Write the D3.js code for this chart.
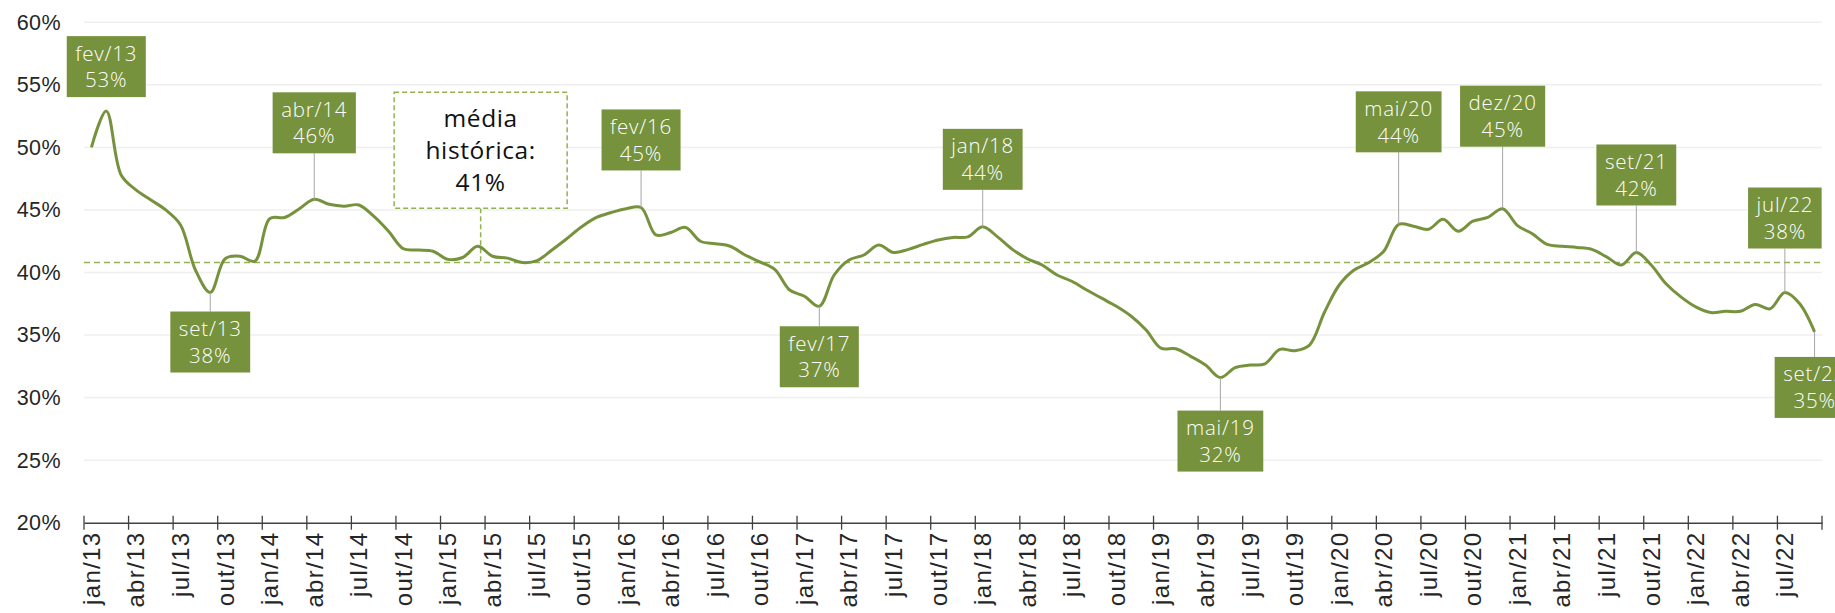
<!DOCTYPE html>
<html>
<head>
<meta charset="utf-8">
<script src="https://cdn.jsdelivr.net/npm/d3@7"></script>
<style>
  body { margin: 0; background: #fff; }
  svg { display: block; font-family: "Open Sans", sans-serif; font-weight: 300; }
</style>
</head>
<body>
<div id="chart"></div>
<script>
// month categories (pt-BR)
const monthNames = ['jan', 'fev', 'mar', 'abr', 'mai', 'jun', 'jul', 'ago', 'set', 'out', 'nov', 'dez'];
const years = ['13', '14', '15', '16', '17', '18', '19', '20', '21', '22'];
const lastMonth = 'set/22';

// monthly series, % (jan/13 .. set/22)
const values = [
  50.0, 52.9, 47.8, 46.6, 45.8, 45.0, 43.8, 40.2, 38.4, 41.1, 41.3, 40.9,
  44.3, 44.4, 45.1, 45.85, 45.45, 45.3, 45.4, 44.5, 43.3, 41.9, 41.8, 41.7,
  41.05, 41.2, 42.1, 41.3, 41.15, 40.8, 40.95, 41.8, 42.7, 43.65, 44.4, 44.8,
  45.1, 45.2, 43.0, 43.2, 43.6, 42.5, 42.3, 42.1, 41.4, 40.85, 40.25, 38.6,
  38.1, 37.3, 39.8, 41.0, 41.4, 42.2, 41.6, 41.85, 42.25, 42.6, 42.8, 42.85,
  43.65, 42.85, 41.85, 41.1, 40.6, 39.8, 39.3, 38.6, 37.95, 37.3, 36.5, 35.4,
  33.95, 33.9, 33.3, 32.6, 31.6, 32.4, 32.6, 32.7, 33.85, 33.75, 34.2, 36.8,
  39.0, 40.2, 40.8, 41.7, 43.85, 43.7, 43.45, 44.25, 43.3, 44.1, 44.4, 45.1,
  43.75, 43.1, 42.25, 42.1, 42.0, 41.85, 41.25, 40.6, 41.6, 40.6, 39.1, 38.05,
  37.25, 36.8, 36.9, 36.9, 37.45, 37.1, 38.4, 37.5, 35.25
];

const historicalAvg = 40.8;
const yTicks = [20, 25, 30, 35, 40, 45, 50, 55, 60];
const tickMonths = ['jan', 'abr', 'jul', 'out'];

// highlighted months
const callouts = ['fev/13', 'set/13', 'abr/14', 'fev/16', 'fev/17', 'jan/18',
                  'mai/19', 'mai/20', 'dez/20', 'set/21', 'jul/22', 'set/22'];

// callout placement: side of the line and gap (px) between point and box
const calloutLayout = {
  'fev/13': { side: 'up', gap: 14, leader: false },
  'set/13': { side: 'down', gap: 19 },
  'abr/14': { side: 'up', gap: 46 },
  'fev/16': { side: 'up', gap: 37 },
  'fev/17': { side: 'down', gap: 20 },
  'jan/18': { side: 'up', gap: 37 },
  'mai/19': { side: 'down', gap: 33 },
  'mai/20': { side: 'up', gap: 72 },
  'dez/20': { side: 'up', gap: 62 },
  'set/21': { side: 'up', gap: 47 },
  'jul/22': { side: 'up', gap: 44 },
  'set/22': { side: 'down', gap: 25 }
};

const months = [];
for (const y of years) {
  for (const m of monthNames) {
    if (months.length && months[months.length - 1] === lastMonth) break;
    months.push(`${m}/${y}`);
  }
}
const data = months.map((m, i) => ({ month: m, value: values[i] }));

const W = 1835, H = 613;
const margin = { top: 22.3, right: 13, bottom: 90.3, left: 84 };

const svg = d3.select('#chart').append('svg')
  .attr('width', W)
  .attr('height', H);

const x = d3.scaleBand()
  .domain(months)
  .range([margin.left, W - margin.right])
  .paddingInner(0)
  .paddingOuter(0);
const xc = m => x(m) + x.bandwidth() / 2;

const y = d3.scaleLinear()
  .domain([20, 60])
  .range([H - margin.bottom, margin.top]);

const green = '#76923c';
const lightGreen = '#93b254';

// gridlines
svg.append('g')
  .selectAll('line')
  .data(yTicks.filter(d => d > 20))
  .join('line')
  .attr('x1', margin.left)
  .attr('x2', W - margin.right)
  .attr('y1', d => y(d))
  .attr('y2', d => y(d))
  .attr('stroke', '#efefef')
  .attr('stroke-width', 1.5);

// y axis labels
const yAxis = svg.append('g')
  .attr('transform', `translate(${margin.left},0)`)
  .call(d3.axisLeft(y).tickValues(yTicks).tickFormat(d => d + '%').tickSize(0).tickPadding(23));
yAxis.select('.domain').remove();
yAxis.selectAll('text')
  .attr('font-size', 21.5)
  .attr('font-family', null)
  .attr('font-weight', 400)
  .attr('letter-spacing', 0.4)
  .attr('fill', '#262626');

// historical average
svg.append('line')
  .attr('x1', margin.left)
  .attr('x2', W - margin.right)
  .attr('y1', y(historicalAvg))
  .attr('y2', y(historicalAvg))
  .attr('stroke', lightGreen)
  .attr('stroke-width', 1.6)
  .attr('stroke-dasharray', '6,4');

// x axis
const xAxis = svg.append('g')
  .attr('transform', `translate(0,${y(20)})`)
  .call(d3.axisBottom(x)
    .tickValues(months.filter(m => tickMonths.includes(m.split('/')[0])))
    .tickSizeInner(0)
    .tickSizeOuter(0)
    .tickPadding(0));
xAxis.select('.domain')
  .attr('stroke', '#404040')
  .attr('stroke-width', 1.5);
xAxis.selectAll('.tick line').remove();
xAxis.selectAll('.tick text')
  .attr('font-size', 24)
  .attr('font-family', null)
  .attr('font-weight', 400)
  .attr('letter-spacing', 1.3)
  .attr('fill', '#262626')
  .attr('text-anchor', 'end')
  .attr('transform', 'translate(0,9) rotate(-90)')
  .attr('x', 0)
  .attr('y', 0)
  .attr('dy', '0.35em');

// tick marks on category boundaries, every quarter
const boundaries = months.filter((m, i) => i % 3 === 0).map(m => x(m)).concat([x.range()[1]]);
svg.append('g')
  .selectAll('line')
  .data(boundaries)
  .join('line')
  .attr('x1', d => d)
  .attr('x2', d => d)
  .attr('y1', y(20) - 7)
  .attr('y2', y(20) + 7)
  .attr('stroke', '#404040')
  .attr('stroke-width', 1.3);

// "média histórica" box
const mediaCx = xc('mar/15') + 3;
const mediaBox = { w: 173, h: 116, top: 92.3 };
const media = svg.append('g');
media.append('line')
  .attr('x1', mediaCx).attr('x2', mediaCx)
  .attr('y1', mediaBox.top + mediaBox.h)
  .attr('y2', y(historicalAvg))
  .attr('stroke', lightGreen)
  .attr('stroke-width', 1.5)
  .attr('stroke-dasharray', '5,3');
media.append('rect')
  .attr('x', mediaCx - mediaBox.w / 2)
  .attr('y', mediaBox.top)
  .attr('width', mediaBox.w)
  .attr('height', mediaBox.h)
  .attr('fill', '#fff')
  .attr('stroke', lightGreen)
  .attr('stroke-width', 1.5)
  .attr('stroke-dasharray', '5,3');
const mediaLines = ['média', 'histórica:', d3.format('.0f')(historicalAvg) + '%'];
media.selectAll('text')
  .data(mediaLines)
  .join('text')
  .attr('x', mediaCx)
  .attr('y', (d, i) => mediaBox.top + 26 + i * 32.3)
  .attr('dy', '0.35em')
  .attr('text-anchor', 'middle')
  .attr('font-size', 24.5)
  .attr('font-weight', 400)
  .attr('letter-spacing', 0.6)
  .attr('fill', '#111')
  .text(d => d);

// series line
svg.append('path')
  .datum(data)
  .attr('fill', 'none')
  .attr('stroke', green)
  .attr('stroke-width', 3)
  .attr('stroke-linejoin', 'round')
  .attr('d', d3.line()
    .x(d => xc(d.month))
    .y(d => y(d.value))
    .curve(d3.curveCatmullRom.alpha(0.5)));

// callouts
const boxH = 61;
const fmtPct = d3.format('.0f');
const calloutData = callouts.map(m => data.find(d => d.month === m));

const cg = svg.append('g')
  .selectAll('g')
  .data(calloutData)
  .join('g');

cg.each(function (d) {
  const g = d3.select(this);
  const lay = calloutLayout[d.month];
  const px = xc(d.month);
  const py = y(d.value);
  const top = lay.side === 'up' ? py - lay.gap - boxH : py + lay.gap;

  if (lay.leader !== false) {
    g.append('line')
      .attr('x1', px).attr('x2', px)
      .attr('y1', lay.side === 'up' ? top + boxH : top)
      .attr('y2', py)
      .attr('stroke', '#a6a6a6')
      .attr('stroke-width', 1);
  }

  const rect = g.append('rect')
    .attr('y', top)
    .attr('height', boxH)
    .attr('fill', green);

  const lines = [d.month, fmtPct(d.value) + '%'];
  const texts = g.selectAll('text')
    .data(lines)
    .join('text')
    .attr('x', px)
    .attr('y', (t, i) => top + 17.3 + i * 26.7)
    .attr('dy', '0.35em')
    .attr('text-anchor', 'middle')
    .attr('font-size', 20.5)
    .attr('letter-spacing', 0.8)
    .attr('fill', '#fff')
    .text(t => t);

  let tw = 0;
  texts.each(function () { tw = Math.max(tw, this.getComputedTextLength()); });
  const bw = tw + 17;
  rect.attr('x', px - bw / 2).attr('width', bw);
});
</script>
</body>
</html>
